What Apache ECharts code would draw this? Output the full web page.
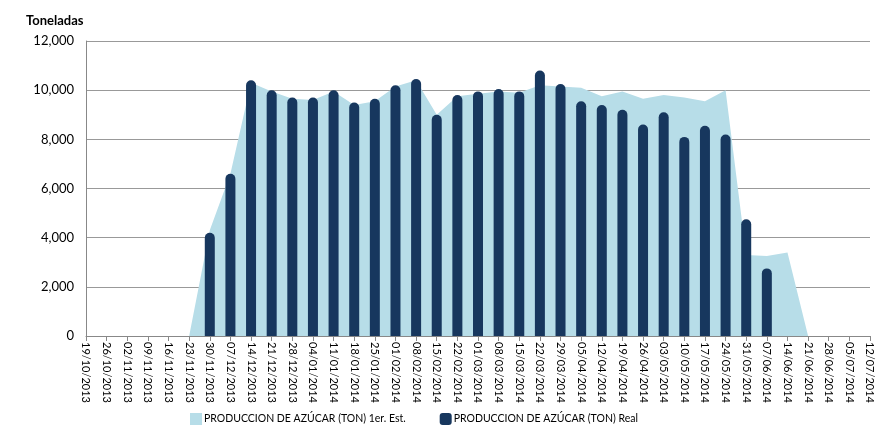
<!DOCTYPE html>
<html>
<head>
<meta charset="utf-8">
<script src="https://cdn.jsdelivr.net/npm/echarts@6/dist/echarts.min.js"></script>
<style>html,body{margin:0;padding:0;background:#fff}#c{width:882px;height:432px}</style>
</head>
<body>
<div id="c"></div>
<script>
var categories = ['19/10/2013','26/10/2013','02/11/2013','09/11/2013','16/11/2013','23/11/2013','30/11/2013','07/12/2013','14/12/2013','21/12/2013','28/12/2013','04/01/2014','11/01/2014','18/01/2014','25/01/2014','01/02/2014','08/02/2014','15/02/2014','22/02/2014','01/03/2014','08/03/2014','15/03/2014','22/03/2014','29/03/2014','05/04/2014','12/04/2014','19/04/2014','26/04/2014','03/05/2014','10/05/2014','17/05/2014','24/05/2014','31/05/2014','07/06/2014','14/06/2014','21/06/2014','28/06/2014','05/07/2014','12/07/2014'];
var estimado = [null,null,null,null,null,0,4300,6600,10300,9950,9650,9600,9950,9400,9550,10150,10400,9000,9750,9850,9950,9900,10200,10150,10100,9750,9950,9650,9800,9700,9550,10000,3300,3250,3400,0,null,null,null];
var real = [null,null,null,null,null,null,4200,6600,10400,10000,9700,9700,10000,9500,9650,10200,10450,9000,9800,9950,10050,9950,10800,10250,9550,9400,9200,8600,9100,8100,8550,8200,4750,2750,null,null,null,null,null];
var yTicks = [0,2000,4000,6000,8000,10000,12000];
var seriesNames = ['PRODUCCION DE AZÚCAR (TON) 1er. Est.','PRODUCCION DE AZÚCAR (TON) Real'];

var chart = echarts.init(document.getElementById('c'), null, {renderer:'canvas'});
var font = 'Lato, "Open Sans", sans-serif';
chart.setOption({
  animation: false,
  textStyle: {fontFamily: font},
  title: {text: 'Toneladas', left: 21, top: 9, textStyle: {fontSize: 13, fontWeight: 'bold', color: '#000', fontFamily: font}},
  grid: {left: 86, right: 12, top: 41, bottom: 96, containLabel: false},
  legend: {
    bottom: 2, left: 185, itemGap: 34,
    textStyle: {fontSize: 10.5, color: '#000', fontFamily: font, padding: [0,0,0,-3]},
    data: [
      {name: seriesNames[0], icon: 'rect', itemStyle: {color: '#B7DDE8'}},
      {name: seriesNames[1], icon: 'roundRect', itemStyle: {color: '#17375E'}}
    ],
    itemWidth: 12, itemHeight: 12
  },
  xAxis: {
    type: 'category', data: categories, boundaryGap: false,
    axisLine: {lineStyle: {color: '#888'}},
    axisTick: {show: true, interval: 0, length: 5, lineStyle: {color: '#888'}},
    axisLabel: {interval: 0, rotate: -90, fontSize: 11, color: '#000', margin: 6, fontFamily: font},
    splitLine: {show: false}
  },
  yAxis: {
    type: 'value', min: yTicks[0], max: yTicks[yTicks.length-1], interval: 2000,
    axisLine: {show: true, lineStyle: {color: '#888'}},
    axisTick: {show: false},
    axisLabel: {fontSize: 13, color: '#000', margin: 12, fontFamily: font,
      formatter: function(v){ return v.toLocaleString('en-US'); }},
    splitLine: {lineStyle: {color: '#999', width: 1}}
  },
  series: [
    {name: seriesNames[0], type: 'line', data: estimado, symbol: 'none', connectNulls: false,
      lineStyle: {width: 0}, itemStyle: {color: '#B7DDE8'}, areaStyle: {color: '#B7DDE8', opacity: 1}, z: 1},
    {name: seriesNames[1], type: 'bar', data: real, barWidth: 10, barGap: '-100%',
      itemStyle: {color: '#17375E', borderRadius: [5,5,0,0]}, z: 2}
  ]
});
</script>
</body>
</html>
